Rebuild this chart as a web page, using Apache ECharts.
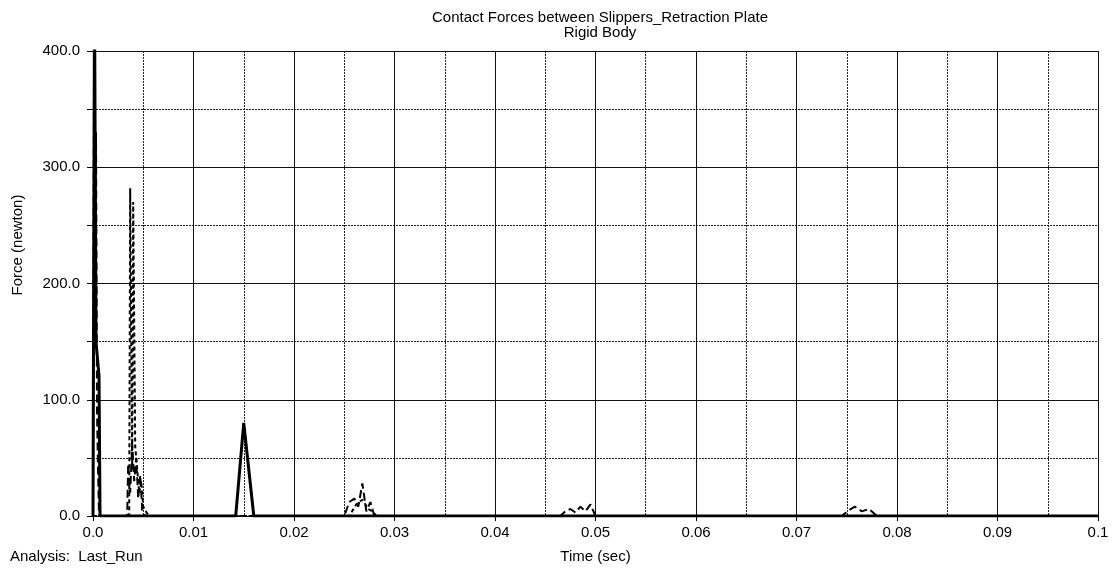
<!DOCTYPE html>
<html>
<head>
<meta charset="utf-8">
<script src="https://cdn.jsdelivr.net/npm/echarts@6/dist/echarts.min.js"></script>
<style>
  html, body { margin: 0; padding: 0; background: #fff; }
  #main { width: 1114px; height: 569px; }
</style>
</head>
<body>
<div id="main"></div>
<script>
// solid curve
const timeA = [0, 0.00015, 0.0003, 0.0006, 0.0007, 0.0142, 0.015, 0.016, 0.1];
const forceA = [0, 450, 150, 120, 0, 0, 80, 0, 0];

// long dash curve
const timeB = [0, 0.0001, 0.0002, 0.0003, 0.0004, 0.0005, 0.0006, 0.0034, 0.0035, 0.0037, 0.0039, 0.0041, 0.0043, 0.0045, 0.0047, 0.0049, 0.0052,
  0.025, 0.0255, 0.026, 0.0264, 0.0268, 0.0272, 0.0276, 0.028,
  0.0465, 0.047, 0.0475, 0.048, 0.0485, 0.049, 0.0495, 0.05,
  0.0745, 0.0752, 0.0758, 0.0765, 0.0772, 0.078, 0.1];
const forceB = [0, 380, 250, 330, 90, 40, 0, 0, 45, 20, 62, 30, 50, 15, 35, 5, 0,
  0, 12, 15, 8, 28, 4, 12, 0,
  0, 4, 6, 3, 8, 4, 10, 0,
  0, 5, 8, 4, 6, 0, 0];

// short dash curve
const timeC = [0, 0.0036, 0.0037, 0.0039, 0.004, 0.0042, 0.0044, 0.0046, 0.0048, 0.005, 0.0054, 0.0058,
  0.0255, 0.0262, 0.0268, 0.0274, 0.0278, 0.0282, 0.1];
const forceC = [0, 0, 282, 40, 270, 60, 40, 20, 30, 8, 2, 0,
  0, 10, 14, 6, 4, 0, 0];

const pairs = (xs, ys) => xs.map((x, i) => [x, ys[i]]);

const font = 'Liberation Sans, Arial, sans-serif';
const myChart = echarts.init(document.getElementById('main'));

myChart.setOption({
  animation: false,
  textStyle: { fontFamily: font, color: '#000' },
  title: {
    text: 'Contact Forces between Slippers_Retraction Plate\nRigid Body',
    left: 595,
    top: 5,
    textAlign: 'center',
    textStyle: { fontSize: 15, fontWeight: 'normal', lineHeight: 15, color: '#000', fontFamily: font },
  },
  graphic: [
    {
      type: 'text',
      left: 10,
      top: 549,
      style: { text: 'Analysis:  Last_Run', fontSize: 15, fill: '#000', fontFamily: font },
    },
    {
      type: 'text',
      x: 18,
      y: 245,
      rotation: Math.PI / 2,
      style: { text: 'Force (newton)', fontSize: 15, fill: '#000', fontFamily: font, align: 'center', verticalAlign: 'middle' },
    },
  ],
  grid: { left: 93, right: 16, top: 51, bottom: 53 },
  xAxis: {
    type: 'value',
    min: 0,
    max: 0.1,
    interval: 0.01,
    name: 'Time (sec)',
    nameLocation: 'middle',
    nameGap: 33,
    nameTextStyle: { fontSize: 15, color: '#000' },
    axisLine: { show: true, lineStyle: { color: '#000', width: 1 } },
    axisTick: { show: true, length: 5, lineStyle: { color: '#000' } },
    axisLabel: {
      fontSize: 15,
      color: '#000',
      margin: 9,
      formatter: (v) => (v === 0 ? '0.0' : Math.abs(v - 0.1) < 1e-9 ? '0.1' : v.toFixed(2)),
    },
    splitLine: { show: true, lineStyle: { color: '#111', width: 1 } },
    minorTick: { show: false, splitNumber: 2 },
    minorSplitLine: { show: true, lineStyle: { color: '#222', width: 1, type: [2, 1] } },
  },
  yAxis: {
    type: 'value',
    min: 0,
    max: 400,
    interval: 100,
    axisLine: { show: true, lineStyle: { color: '#000', width: 1 } },
    axisTick: { show: true, length: 6, lineStyle: { color: '#000' } },
    axisLabel: { fontSize: 15, color: '#000', margin: 13, formatter: (v) => v.toFixed(1) },
    splitLine: { show: true, lineStyle: { color: '#111', width: 1 } },
    minorTick: { show: true, splitNumber: 2, length: 6, lineStyle: { color: '#000' } },
    minorSplitLine: { show: true, lineStyle: { color: '#222', width: 1, type: [2, 1] } },
  },
  series: [
    {
      name: 'solid',
      type: 'line',
      data: pairs(timeA, forceA),
      showSymbol: false,
      lineStyle: { color: '#000', width: 3, type: 'solid' },
    },
    {
      name: 'dash',
      type: 'line',
      data: pairs(timeB, forceB),
      showSymbol: false,
      lineStyle: { color: '#000', width: 2, type: [8, 4] },
    },
    {
      name: 'dot',
      type: 'line',
      data: pairs(timeC, forceC),
      showSymbol: false,
      lineStyle: { color: '#000', width: 2, type: [4, 3] },
    },
  ],
});
</script>
</body>
</html>
